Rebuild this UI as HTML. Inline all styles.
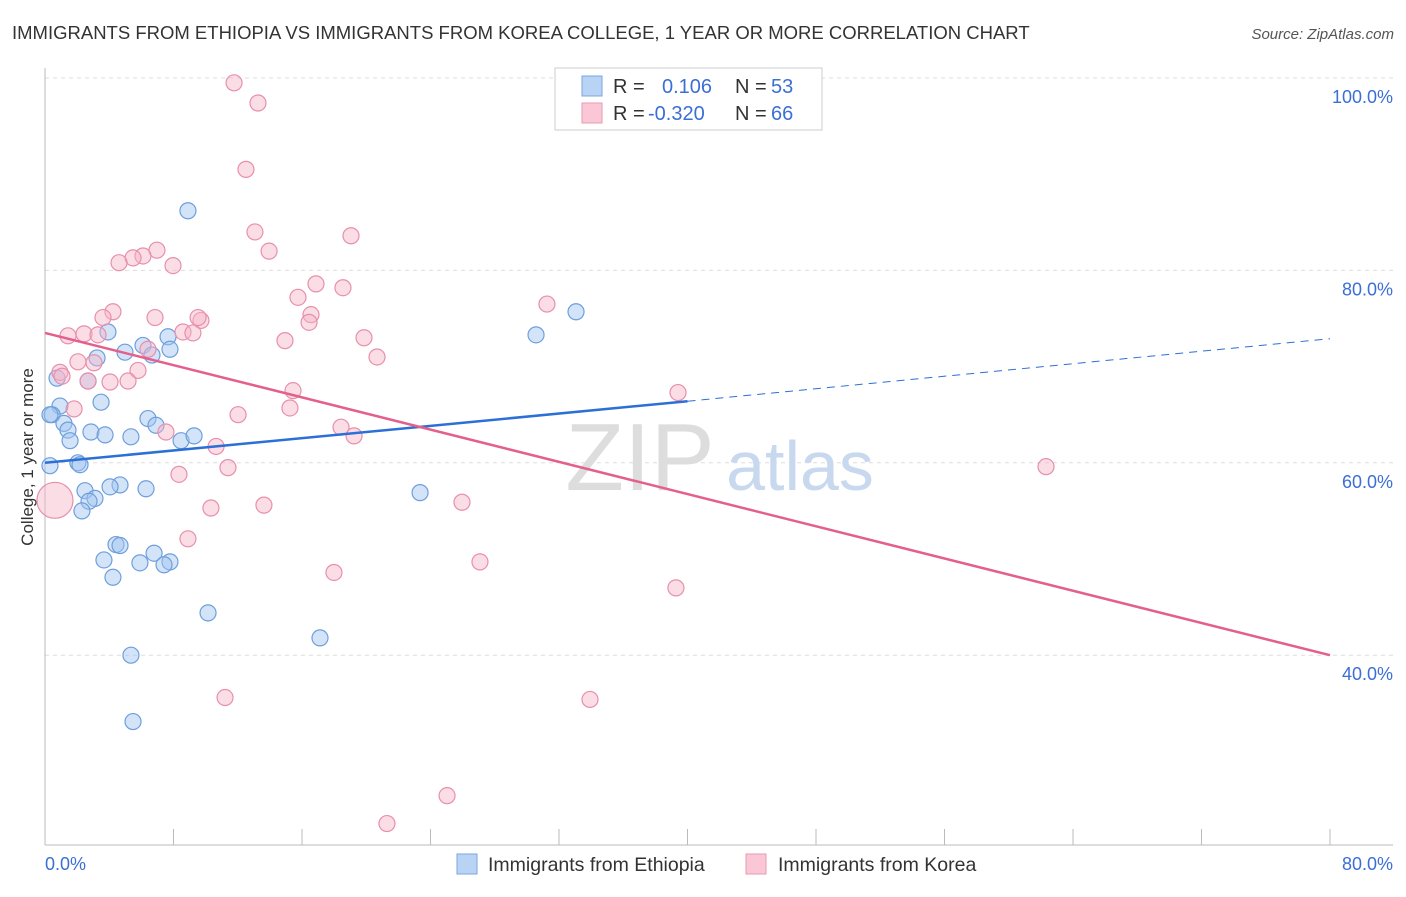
<!DOCTYPE html>
<html><head><meta charset="utf-8"><style>
body{margin:0;background:#fff;font-family:"Liberation Sans",sans-serif}
svg text{font-family:"Liberation Sans",sans-serif}
</style></head><body>
<svg width="1406" height="892">
<text x="12" y="39" font-size="18.5" fill="#333">IMMIGRANTS FROM ETHIOPIA VS IMMIGRANTS FROM KOREA COLLEGE, 1 YEAR OR MORE CORRELATION CHART</text>
<text x="1394" y="39" font-size="15" fill="#555" font-style="italic" text-anchor="end">Source: ZipAtlas.com</text>
<g id="grid"></g>
<text x="640" y="490" font-size="96" fill="#ddd" font-family="Liberation Serif" text-anchor="middle">ZIP</text>
<text x="800" y="490" font-size="70" fill="#c8d8ee" text-anchor="middle">atlas</text>
<g id="marks"></g>
<text transform="translate(33,457) rotate(-90)" font-size="17" fill="#333" text-anchor="middle">College, 1 year or more</text>
<text x="45" y="870" font-size="18" fill="#3b6fd4">0.0%</text>
<text x="1393" y="870" font-size="18" fill="#3b6fd4" text-anchor="end">80.0%</text>
<g>
<rect x="555" y="68" width="267" height="62" fill="#fff" stroke="#ccc"/>
<rect x="582" y="76" width="20" height="20" fill="#b9d3f5" stroke="#7aa6e0"/>
<rect x="582" y="103" width="20" height="20" fill="#f9c7d5" stroke="#ea9ab2"/>
<text x="613" y="93" font-size="20" fill="#333">R =</text><text x="662" y="93" font-size="20" fill="#3b6fd4">0.106</text>
<text x="735" y="93" font-size="20" fill="#333">N =</text><text x="771" y="93" font-size="20" fill="#3b6fd4">53</text>
<text x="613" y="120" font-size="20" fill="#333">R =</text><text x="648" y="120" font-size="20" fill="#3b6fd4">-0.320</text>
<text x="735" y="120" font-size="20" fill="#333">N =</text><text x="771" y="120" font-size="20" fill="#3b6fd4">66</text>
</g>
<g>
<rect x="457" y="854" width="20" height="20" fill="#b9d3f5" stroke="#7aa6e0"/>
<text x="488" y="871" font-size="19.5" fill="#333">Immigrants from Ethiopia</text>
<rect x="746" y="854" width="20" height="20" fill="#f9c7d5" stroke="#ea9ab2"/>
<text x="778" y="871" font-size="19.5" fill="#333">Immigrants from Korea</text>
</g>
</svg>
<script>
const yTicks=[40,60,80,100];
const xTicks=[8,16,24,32,40,48,56,64,72,80];
const ethX=[8.9,33.06,30.57,3.92,3.24,7.66,6.1,6.66,4.98,7.78,0.75,2.68,3.49,0.93,0.44,1.18,1.43,1.56,2.86,3.74,5.35,6.41,6.91,8.47,9.28,2.05,0.31,2.18,4.67,4.05,6.29,2.49,3.11,2.74,2.3,23.35,4.42,4.67,3.67,6.79,5.91,7.78,7.41,4.23,10.15,17.12,5.35,5.48,0.31];
const ethY=[86.2,75.7,73.3,73.6,70.9,73.1,72.2,71.2,71.5,71.8,68.8,68.5,66.3,65.9,65,64.1,63.4,62.3,63.2,62.9,62.7,64.6,63.9,62.3,62.8,60,59.7,59.8,57.7,57.5,57.3,57.1,56.3,56,55,56.9,51.5,51.4,49.9,50.6,49.6,49.7,49.4,48.1,44.4,41.8,40,33.1,65];
const korX=[11.77,13.26,12.51,13.07,13.95,19.05,6.97,6.1,5.48,4.61,7.97,16.87,18.55,15.75,31.25,4.23,3.61,6.85,9.71,9.53,16.56,16.44,14.94,19.86,1.43,2.43,3.3,8.59,9.21,6.41,20.67,2.05,3.05,5.79,0.93,1.06,2.68,4.05,5.17,39.41,15.44,15.25,1.81,12.02,18.43,19.24,7.53,10.65,11.39,8.34,62.32,0.62,25.96,10.33,13.63,8.9,27.08,17.99,39.28,11.21,33.93,25.03,21.29];
const korY=[99.5,97.4,90.5,84,82,83.6,82.1,81.5,81.3,80.8,80.5,78.6,78.2,77.2,76.5,75.7,75.1,75.1,74.8,75.1,75.4,74.6,72.7,73,73.2,73.4,73.3,73.6,73.5,71.8,71,70.5,70.4,69.6,69.4,69,68.5,68.4,68.5,67.3,67.5,65.7,65.6,65,63.7,62.8,63.2,61.7,59.5,58.8,59.6,56.1,55.9,55.3,55.6,52.1,49.7,48.6,47,35.6,35.4,25.4,22.5];
const korBig=51;
const ethTrend=[[0,60],[40,66.4],[80,72.9]];
const korTrend=[[0,73.5],[80,40]];
const NS='http://www.w3.org/2000/svg';
const X=v=>45+v*16.0625, Y=v=>78+(100-v)*9.62;
const g=document.getElementById('grid'), m=document.getElementById('marks');
function mk(p,t,a){const e=document.createElementNS(NS,t);for(const k in a)e.setAttribute(k,a[k]);p.appendChild(e);return e;}
yTicks.forEach(v=>{const l=mk(g,'line',{x1:45,x2:1393,y1:Y(v),y2:Y(v),stroke:'#ddd','stroke-dasharray':'4,4'});


const t=mk(g,'text',{x:1393,y:Y(v)+25,'font-size':18,fill:'#3b6fd4','text-anchor':'end'});t.textContent=v.toFixed(1)+'%';

});
const ax=mk(g,'line',{x1:45,x2:45,y1:68,y2:845,stroke:'#bbb'});


const bx=mk(g,'line',{x1:45,x2:1393,y1:845,y2:845,stroke:'#bbb'});


xTicks.forEach(v=>{const l=mk(g,'line',{x1:X(v),x2:X(v),y1:829,y2:845,stroke:'#bbb'});

});
ethX.forEach((x,i)=>{const c=mk(m,'circle',{cx:X(x),cy:Y(ethY[i]),r:8,fill:'rgba(160,196,240,0.45)',stroke:'#6d9fdc','stroke-width':1.2});

});
korX.forEach((x,i)=>{const c=mk(m,'circle',{cx:X(x),cy:Y(korY[i]),r:i===korBig?18:8,fill:'rgba(246,180,200,0.45)',stroke:'#e88fac','stroke-width':1.2});

});
let l1=mk(m,'line',{x1:X(ethTrend[0][0]),y1:Y(ethTrend[0][1]),x2:X(ethTrend[1][0]),y2:Y(ethTrend[1][1]),stroke:'#2c6fd6','stroke-width':2.5});


let l2=mk(m,'line',{x1:X(ethTrend[1][0]),y1:Y(ethTrend[1][1]),x2:X(ethTrend[2][0]),y2:Y(ethTrend[2][1]),stroke:'#2c6fd6','stroke-width':1,'stroke-dasharray':'8,6'});


let l3=mk(m,'line',{x1:X(korTrend[0][0]),y1:Y(korTrend[0][1]),x2:X(korTrend[1][0]),y2:Y(korTrend[1][1]),stroke:'#e4608c','stroke-width':2.5});


</script>
</body></html>
